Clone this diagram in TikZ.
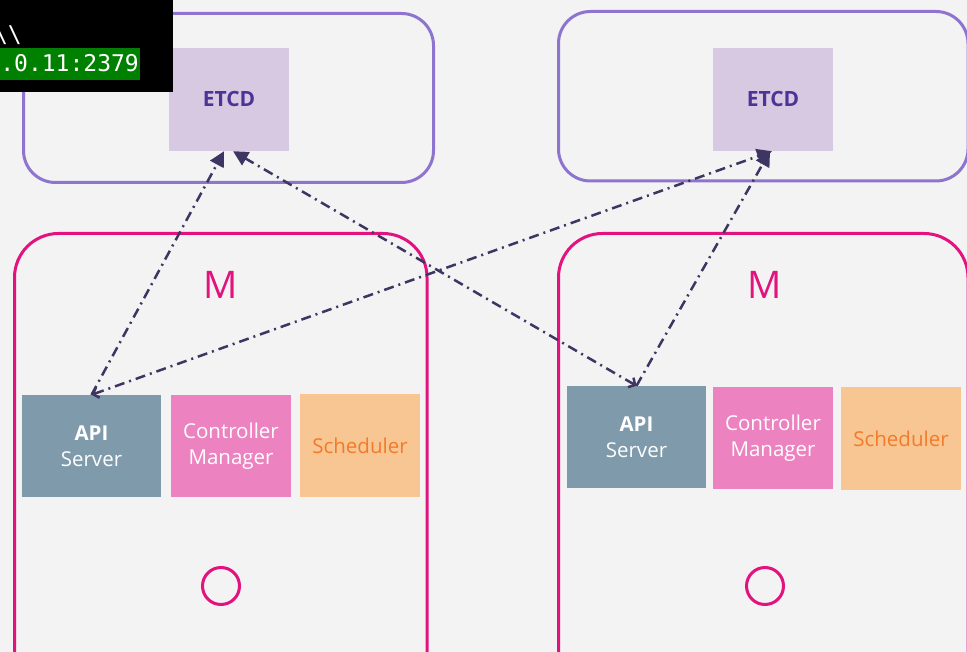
\documentclass[tikz,border=0pt]{standalone}
\usepackage{fontspec}
\setmainfont{Open Sans}
\setmonofont{DejaVu Sans Mono}
\usetikzlibrary{arrows.meta}
\definecolor{bg}{HTML}{F3F3F3}
\definecolor{etcdline}{HTML}{8E74CF}
\definecolor{etcdfill}{HTML}{D8C9E2}
\definecolor{etcdtext}{HTML}{4A3596}
\definecolor{master}{HTML}{E2137E}
\definecolor{apifill}{HTML}{7F9AAB}
\definecolor{cmfill}{HTML}{EC83C0}
\definecolor{schedfill}{HTML}{F7C692}
\definecolor{schedtext}{HTML}{F27B2B}
\definecolor{linkc}{HTML}{3E3562}
\definecolor{termgreen}{HTML}{008000}
\tikzset{
  etcdcl/.style={draw=etcdline, line width=3pt, rounded corners=32pt},
  mastercl/.style={draw=master, line width=3pt, rounded corners=44pt},
  etcdbox/.style={fill=etcdfill, minimum width=120pt, minimum height=103pt, text=etcdtext, font=\fontsize{21}{24}\selectfont\bfseries},
  comp/.style={minimum width=120pt, minimum height=102pt, align=center, font=\fontsize{20.5}{26}\selectfont, text=white},
  apibox/.style={comp, fill=apifill, minimum width=139pt},
  cmbox/.style={comp, fill=cmfill},
  schedbox/.style={comp, fill=schedfill, text=schedtext},
  mlab/.style={text=master, font=\fontsize{38}{40}\selectfont},
  ring/.style={circle, draw=master, line width=3pt, minimum size=37pt, inner sep=0pt},
  etcdlink/.style={draw=linkc, line width=2.5pt, dash pattern=on 10pt off 5pt on 2pt off 5pt, -{Triangle[length=15pt,width=15pt]}},
  backtip/.style={{Straight Barb[length=5pt,width=11pt]}-{Triangle[length=15pt,width=15pt]}},
  term/.style={text=white, inner sep=0pt, font=\ttfamily\fontsize{23}{26}\selectfont}
}
\begin{document}
\begin{tikzpicture}[x=1pt, y=-1pt]
  \useasboundingbox (0,0) rectangle (967,652);
  \clip (0,0) rectangle (967,652);
  \fill[bg] (0,0) rectangle (967,652);

  % etcd clusters
  \draw[etcdcl] (23.5,13.5) rectangle (433.5,182.5);
  \draw[etcdcl] (558.5,11.5) rectangle (968,181);
  \node[etcdbox] (etcd1) at (229,99.5) {ETCD};
  \node[etcdbox] (etcd2) at (773,99.5) {ETCD};

  % masters
  \draw[mastercl] (14.5,233.5) rectangle (427,700);
  \draw[mastercl] (558.5,233.5) rectangle (968,700);
  \node[mlab] (m1) at (221,285) {M};
  \node[mlab] (m2) at (765,285) {M};

  \node[apibox] (api1) at (91.5,446) {\textbf{API}\\Server};
  \node[cmbox] (cm1) at (231,446) {Controller\\Manager};
  \node[schedbox] (sched1) at (360,445.5) {Scheduler};
  \node[apibox] (api2) at (636.5,437) {\textbf{API}\\Server};
  \node[cmbox] (cm2) at (773,438) {Controller\\Manager};
  \node[schedbox] (sched2) at (901,438.5) {Scheduler};

  \node[ring] (ring1) at (221,586) {};
  \node[ring] (ring2) at (765,586) {};

  \draw[etcdlink] (api1.north) -- ([xshift=-5pt]etcd1.south);
  \draw[etcdlink, backtip] (api2.north) -- ([xshift=4pt]etcd1.south);
  \draw[etcdlink, backtip] (api1.north) -- ([xshift=-1pt]etcd2.south);
  \draw[etcdlink] (api2.north) -- ([xshift=-3pt]etcd2.south);

  % terminal snippet
  \fill[black] (0,0) rectangle (173,92);
  \fill[termgreen] (0,48) rectangle (140,80);
  \node[term, anchor=base east] (t1) at (22,43) {\textbackslash\textbackslash};
  \node[term, anchor=base east] (t2) at (139,72) {.0.11:2379};
\end{tikzpicture}
\end{document}
